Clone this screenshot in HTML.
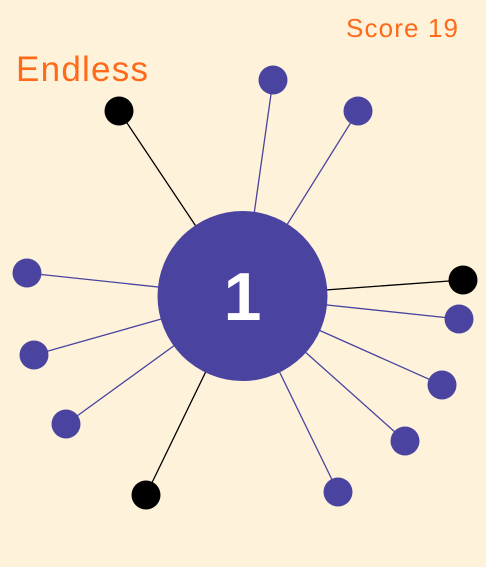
<!DOCTYPE html>
<html><head><meta charset="utf-8"><style>
html,body{margin:0;padding:0;}
body{width:486px;height:567px;background:#fef3da;overflow:hidden;position:relative;font-family:"Liberation Sans",sans-serif;}
svg{position:absolute;left:0;top:0;}
</style></head><body>
<svg width="486" height="567">
<g id="pins"></g>
<circle cx="242.5" cy="296" r="85" fill="#4a44a0"/>
<text x="242.5" y="320" text-anchor="middle" font-family="Liberation Sans, sans-serif" font-size="68" font-weight="bold" fill="#ffffff">1</text>
<text x="16" y="81" font-family="Liberation Sans, sans-serif" font-size="35" fill="#ff6a1a" textLength="132">Endless</text>
<text x="346" y="37" font-family="Liberation Sans, sans-serif" font-size="26" fill="#ff6a1a" textLength="112">Score 19</text>
</svg>
<script>
const ballX=[119,273,358,27,463,459,34,442,66,405,146,338];
const ballY=[111,80,111,273,280,319,355,385,424,441,495,492];
const ballBlack=[1,0,0,0,1,0,0,0,0,0,1,0];
const cx=242.5, cy=296;
const g=document.getElementById('pins');
const ns='http://www.w3.org/2000/svg';
for(let i=0;i<ballX.length;i++){
  const col=ballBlack[i]?'#000000':'#4a44a0';
  const l=document.createElementNS(ns,'line');
  l.setAttribute('x1',cx);l.setAttribute('y1',cy);
  l.setAttribute('x2',ballX[i]);l.setAttribute('y2',ballY[i]);
  l.setAttribute('stroke',col);l.setAttribute('stroke-width','1.3');
  
  
  g.appendChild(l);
  const c=document.createElementNS(ns,'circle');
  c.setAttribute('cx',ballX[i]);c.setAttribute('cy',ballY[i]);c.setAttribute('r','14.5');
  c.setAttribute('fill',col);
  
  
  g.appendChild(c);
}
</script>
</body></html>
